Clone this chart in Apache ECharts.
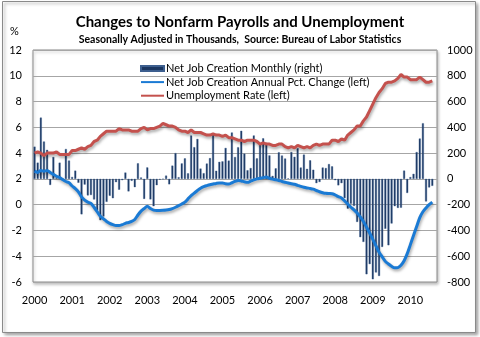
<!DOCTYPE html>
<html>
<head>
<meta charset="utf-8">
<script src="https://cdn.jsdelivr.net/npm/echarts@6/dist/echarts.min.js"></script>
<style>
  html, body { margin: 0; padding: 0; background: #ffffff; }
  #chart { width: 480px; height: 337px; }
</style>
</head>
<body>
<div id="chart"></div>
<script>
// Monthly categories, Jan 2000 through Sep 2010
const startYear = 2000;
const monthCount = 129;
const months = [];
for (let k = 0; k < monthCount; k++) {
  months.push((startYear + Math.floor(k / 12)) + '-' + String(k % 12 + 1).padStart(2, '0'));
}

// Net job creation, monthly change in thousands (right axis)
const netJobsMonthly = [
  250, 126, 475, 290, 225, -47, 170, 5, 126, -8, 232, 142,
  15, 64, -30, -275, -44, -128, -125, -160, -244, -320, -292, -178,
  -131, -150, -25, -84, -10, 49, -97, -15, -64, 121, 11, -155,
  89, -159, -212, -49, -6, -2, 25, -42, 103, 200, 13, 120,
  159, 43, 337, 246, 310, 80, 44, 119, 161, 348, 63, 132,
  136, 240, 142, 360, 170, 246, 373, 196, 67, 84, 337, 159,
  277, 315, 280, 182, 23, 82, 207, 181, 158, 4, 208, 171,
  238, 88, 188, 78, 144, 71, -33, -24, 88, 84, 115, 97,
  -10, -50, -33, -149, -231, -193, -210, -334, -452, -489, -740, -661,
  -779, -726, -753, -528, -387, -515, -346, -212, -225, -224, 64, -109,
  14, 39, 208, 313, 432, -175, -66, -54
];

// Net job creation, annual percent change (left axis)
const netJobsAnnualPct = [
  2.6, 2.5, 2.65, 2.6, 2.65, 2.5, 2.35, 2.2, 2.1, 1.95, 1.8, 1.7,
  1.45, 1.25, 1.0, 0.6, 0.35, 0.2, 0.1, -0.2, -0.55, -0.9, -1.1, -1.3,
  -1.45, -1.55, -1.62, -1.62, -1.55, -1.45, -1.38, -1.3, -1.15, -0.8, -0.5, -0.3,
  -0.13, -0.3, -0.42, -0.45, -0.45, -0.44, -0.42, -0.38, -0.3, -0.2, -0.08, 0.05,
  0.2, 0.45, 0.7, 0.9, 1.1, 1.28, 1.4, 1.48, 1.55, 1.6, 1.65, 1.68,
  1.68, 1.62, 1.6, 1.7, 1.8, 1.88, 1.84, 1.78, 1.73, 1.82, 1.92, 2.0,
  2.05, 2.1, 2.15, 2.05, 1.98, 1.94, 1.88, 1.8, 1.74, 1.68, 1.62, 1.58,
  1.5, 1.42, 1.35, 1.3, 1.26, 1.2, 1.1, 1.0, 0.93, 0.88, 0.86, 0.85,
  0.75, 0.62, 0.52, 0.3, 0.05, -0.2, -0.4, -0.65, -0.95, -1.3, -1.75, -2.2,
  -2.7, -3.2, -3.7, -4.05, -4.4, -4.6, -4.78, -4.9, -4.88, -4.7, -4.35, -3.8,
  -3.1, -2.4, -1.7, -1.0, -0.55, -0.25, 0.0, 0.2
];

// Unemployment rate, percent (left axis)
const unemploymentRate = [
  4.0, 4.1, 4.0, 3.8, 4.0, 4.0, 4.0, 4.1, 3.9, 3.9, 3.9, 3.9,
  4.2, 4.2, 4.3, 4.4, 4.3, 4.5, 4.6, 4.9, 5.0, 5.3, 5.5, 5.7,
  5.7, 5.7, 5.7, 5.9, 5.8, 5.8, 5.8, 5.7, 5.7, 5.7, 5.9, 6.0,
  5.8, 5.9, 5.9, 6.0, 6.1, 6.3, 6.2, 6.1, 6.1, 6.0, 5.8, 5.7,
  5.7, 5.6, 5.8, 5.6, 5.6, 5.6, 5.5, 5.4, 5.4, 5.5, 5.4, 5.4,
  5.3, 5.4, 5.2, 5.2, 5.1, 5.0, 5.0, 4.9, 5.0, 5.0, 5.0, 4.9,
  4.7, 4.8, 4.7, 4.7, 4.6, 4.6, 4.7, 4.7, 4.5, 4.4, 4.5, 4.4,
  4.6, 4.5, 4.4, 4.5, 4.4, 4.6, 4.7, 4.6, 4.7, 4.7, 4.7, 5.0,
  5.0, 4.9, 5.1, 5.0, 5.4, 5.6, 5.8, 6.1, 6.1, 6.5, 6.8, 7.3,
  7.8, 8.3, 8.7, 9.0, 9.4, 9.5, 9.5, 9.6, 9.8, 10.1, 9.9, 9.9,
  9.7, 9.7, 9.7, 9.9, 9.7, 9.5, 9.5, 9.6
];

const seriesNames = [
  'Net Job Creation Monthly (right)',
  'Net Job Creation Annual Pct. Change (left)',
  'Unemployment Rate (left)'
];

const FONT = 'Lato, "Open Sans", sans-serif';
const chart = echarts.init(document.getElementById('chart'), null, { renderer: 'canvas' });

const lineShadow = { shadowColor: 'rgba(0,0,0,0.35)', shadowBlur: 3, shadowOffsetX: 1, shadowOffsetY: 2 };

chart.setOption({
  animation: false,
  backgroundColor: '#ffffff',
  title: {
    text: 'Changes to Nonfarm Payrolls and Unemployment',
    subtext: 'Seasonally Adjusted in Thousands,  Source: Bureau of Labor Statistics',
    left: 'center',
    top: 10,
    itemGap: 4,
    textStyle: { fontFamily: FONT, fontSize: 15, fontWeight: 'bold', color: '#000' },
    subtextStyle: { fontFamily: FONT, fontSize: 10.5, fontWeight: 'bold', color: '#000' }
  },
  graphic: [
    {
      type: 'rect', left: 2, top: 1, z: -10, silent: true,
      shape: { width: 473, height: 331 },
      style: { fill: '#ffffff', stroke: '#8a8a8a', lineWidth: 1,
               shadowColor: 'rgba(0,0,0,0.35)', shadowBlur: 3, shadowOffsetX: 2, shadowOffsetY: 2 }
    },
    {
      type: 'text', left: 10, top: 26,
      style: { text: '%', fontFamily: FONT, fontSize: 11, fill: '#000' }
    }
  ],
  legend: {
    orient: 'vertical',
    left: 140,
    top: 63,
    padding: 0,
    itemWidth: 23,
    itemHeight: 5,
    itemGap: 2.6,
    textStyle: { fontFamily: FONT, fontSize: 11, color: '#000', padding: [0, 0, 0, -3] },
    data: [
      { name: seriesNames[0], icon: 'rect' },
      { name: seriesNames[1], itemStyle: { opacity: 0 } },
      { name: seriesNames[2], itemStyle: { opacity: 0 } }
    ]
  },
  grid: {
    left: 33, right: 43, top: 50, bottom: 55,
    show: true, borderColor: '#8c8c8c', borderWidth: 1,
    shadowColor: 'rgba(0,0,0,0.25)', shadowBlur: 3, shadowOffsetX: 1, shadowOffsetY: 2,
    backgroundColor: '#ffffff'
  },
  xAxis: {
    type: 'category',
    data: months,
    boundaryGap: true,
    axisLine: { show: false },
    axisTick: { show: false },
    axisLabel: {
      interval: (idx) => idx % 12 === 0,
      formatter: (v) => v.slice(0, 4),
      fontFamily: FONT, fontSize: 11, color: '#000', margin: 13
    },
    splitLine: { show: false }
  },
  yAxis: [
    {
      type: 'value', min: -6, max: 12, interval: 2, position: 'left',
      axisLine: { show: false }, axisTick: { show: false },
      axisLabel: { fontFamily: FONT, fontSize: 11, color: '#000', margin: 11 },
      splitLine: { lineStyle: { color: '#a6a6a6', width: 1 } }
    },
    {
      type: 'value', min: -800, max: 1000, interval: 200, position: 'right',
      axisLine: { show: false }, axisTick: { show: false },
      axisLabel: { fontFamily: FONT, fontSize: 11, color: '#000', margin: 10,
                   formatter: (v) => String(v) },
      splitLine: { show: false }
    }
  ],
  series: [
    {
      name: seriesNames[0],
      type: 'bar',
      yAxisIndex: 1,
      data: netJobsMonthly,
      barWidth: '62%',
      itemStyle: { color: '#1b3660', borderColor: '#3d5f8f', borderWidth: 0.4 },
      z: 2
    },
    {
      name: seriesNames[1],
      type: 'line',
      yAxisIndex: 0,
      data: netJobsAnnualPct,
      symbol: 'none',
      smooth: 0.3,
      lineStyle: Object.assign({ color: '#1a7ad4', width: 3 }, lineShadow),
      itemStyle: { color: '#1a7ad4' },
      z: 3
    },
    {
      name: seriesNames[2],
      type: 'line',
      yAxisIndex: 0,
      data: unemploymentRate,
      symbol: 'none',
      lineStyle: Object.assign({ color: '#c4514d', width: 3 }, lineShadow),
      itemStyle: { color: '#c4514d' },
      z: 4
    }
  ]
});
</script>
</body>
</html>
